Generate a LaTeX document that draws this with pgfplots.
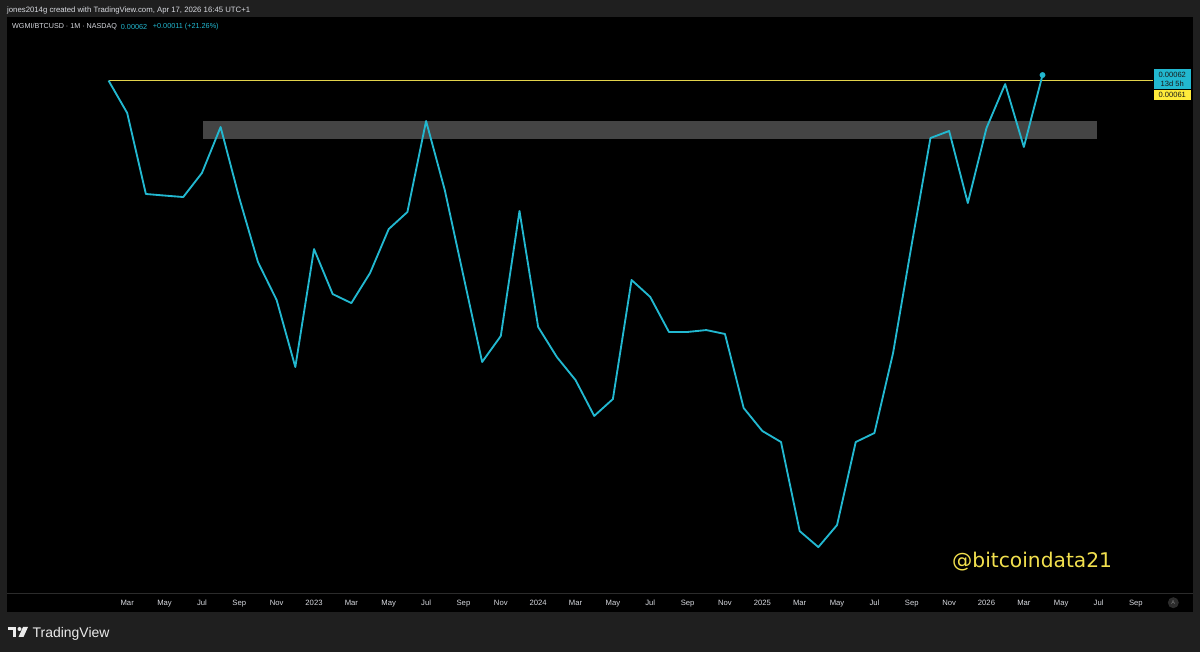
\documentclass[border=0pt]{standalone}
\usepackage{pgfplots}
\usepackage{pgfplotstable}
\pgfplotsset{compat=1.18}
\usepackage{fontspec}
\setmainfont{Liberation Sans}
\newfontfamily\wmfont{DejaVu Sans}
\definecolor{bgout}{HTML}{1F1F1F}
\definecolor{tvcyan}{HTML}{22B8D0}
\definecolor{tvyellow}{HTML}{E3D34C}
\definecolor{lblyellow}{HTML}{FFEB3B}
\definecolor{bandgray}{HTML}{444444}
\definecolor{txtgray}{HTML}{D8DAE0}
\definecolor{sepgray}{HTML}{2B2B2B}
\definecolor{wmyellow}{HTML}{F2E04E}
\definecolor{btngray}{HTML}{2C2C2C}

% month index: 0 = Jan 2023 ; WGMI/BTCUSD monthly close
\pgfplotstableread{
m p
-11 0.0006148
-10 0.0005631
-9 0.0004524
-8 0.0004505
-7 0.0004487
-6 0.0004788
-5 0.0005422
-4 0.0004475
-3 0.0003764
-2 0.0003397
-1 0.0002834
0 0.0003899
1 0.0003452
2 0.0003369
3 0.0003654
4 0.0004115
5 0.0004309
6 0.0005511
7 0.0004573
8 0.0003625
9 0.0002873
10 0.0003082
11 0.0004321
12 0.0003158
13 0.0002912
14 0.0002736
15 0.0002483
16 0.0002599
17 0.0003586
18 0.0003425
19 0.0003116
20 0.0003116
21 0.0003132
22 0.0003099
23 0.0002537
24 0.0002384
25 0.0002314
26 0.0001819
27 0.0001742
28 0.0001849
29 0.0002314
30 0.0002371
31 0.0002944
32 0.0003952
33 0.0005263
34 0.0005364
35 0.0004415
36 0.0005407
37 0.0006090
38 0.0005137
39 0.0006240
}\wgmi

\begin{document}
\begin{tikzpicture}
\path[use as bounding box] (0bp,0bp) rectangle (1200bp,652bp);
\fill[bgout] (0bp,0bp) rectangle (1200bp,652bp);
\fill[black] (7bp,40.3bp) rectangle (1192.5bp,635bp);
\draw[sepgray, line width=1bp] (7bp,58bp) -- (1192.5bp,58bp);

\begin{axis}[
  at={(7bp,58bp)}, anchor=south west,
  scale only axis, width=1185.5bp, height=577bp,
  xmin=-16.435, xmax=47.03,
  ymode=log, ymin=0.00015344, ymax=0.0007299,
  axis line style={draw=none},
  ytick=\empty,
  xtick={-10,-8,-6,-4,-2,0,2,4,6,8,10,12,14,16,18,20,22,24,26,28,30,32,34,36,38,40,42,44},
  xticklabels={Mar,May,Jul,Sep,Nov,2023,Mar,May,Jul,Sep,Nov,2024,Mar,May,Jul,Sep,Nov,2025,Mar,May,Jul,Sep,Nov,2026,Mar,May,Jul,Sep},
  major tick length=0pt,
  xticklabel style={font=\fontsize{7.7}{9}\selectfont, text=txtgray, anchor=base, yshift=-11.8bp},
  clip=false,
]
\addplot[draw=none, fill=bandgray] coordinates {(-5.93,0.0005249) (41.93,0.0005249) (41.93,0.0005511) (-5.93,0.0005511)} -- cycle;
\addplot[tvyellow, line width=1.3bp] coordinates {(-11,0.0006148) (44.91,0.0006148)};
\addplot[tvcyan, line width=1.85bp, line join=round] table[x=m,y=p]{\wgmi};
\addplot[only marks, mark=*, mark size=2.7bp, tvcyan] coordinates {(39,0.000624)};
\end{axis}

% header
\node[anchor=west, inner sep=0, text=txtgray, font=\fontsize{7.8}{9}\selectfont] at (7bp,642bp) {jones2014g created with TradingView.com, Apr 17, 2026 16:45 UTC+1};
% legend
\node[anchor=west, inner sep=0, text=txtgray, font=\fontsize{7.2}{9}\selectfont] at (12bp,625.3bp) {WGMI/BTCUSD · 1M · NASDAQ};
\node[anchor=west, inner sep=0, text=tvcyan, font=\fontsize{7.3}{9}\selectfont] at (120.7bp,625.3bp) {0.00062};
\node[anchor=west, inner sep=0, text=tvcyan, font=\fontsize{7.3}{9}\selectfont] at (152.7bp,625.3bp) {+0.00011 (+21.26\%)};

% price labels
\fill[tvcyan] (1154bp,563bp) rectangle (1190.5bp,583bp);
\node[inner sep=0, text=black!90, font=\fontsize{7.6}{9}\selectfont] at (1172.25bp,577.3bp) {0.00062};
\node[inner sep=0, text=black!90, font=\fontsize{7.6}{9}\selectfont] at (1172.25bp,568.3bp) {13d 5h};
\fill[lblyellow] (1154bp,552bp) rectangle (1190.5bp,562bp);
\node[inner sep=0, text=black!90, font=\fontsize{7.6}{9}\selectfont] at (1172.25bp,557bp) {0.00061};

% watermark
\node[anchor=base west, inner sep=0, text=wmyellow, font=\wmfont\fontsize{20.3}{23}\selectfont] at (952bp,84.7bp) {@bitcoindata21};

% auto-scale button
\fill[btngray] (1173.3bp,49.3bp) circle (5.5bp);
\node[inner sep=0, text=gray, font=\fontsize{5.5}{6}\selectfont] at (1173.3bp,49.3bp) {A};

% TradingView logo
\fill[white!92!black] (8bp,21.5bp) rectangle (16bp,25bp);
\fill[white!92!black] (12.5bp,15bp) rectangle (16bp,25bp);
\fill[white!92!black] (19.5bp,23bp) circle (2bp);
\fill[white!92!black] (23bp,25bp) -- (28bp,25bp) -- (23.5bp,15bp) -- (18.5bp,15bp) -- cycle;
\node[anchor=base west, inner sep=0, text=white!92!black, font=\fontsize{14}{16}\selectfont] at (32.5bp,15bp) {TradingView};
\end{tikzpicture}
\end{document}
